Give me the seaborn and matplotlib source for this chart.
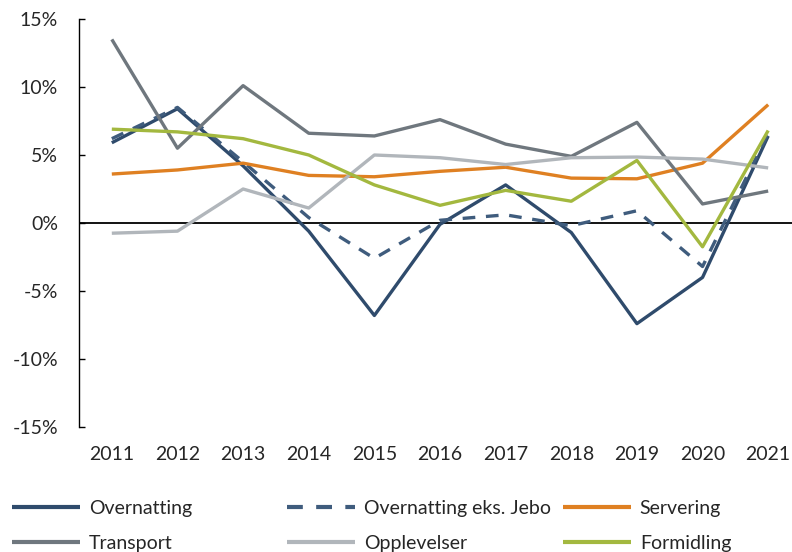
import numpy as np
import pandas as pd
import seaborn as sns
import matplotlib.pyplot as plt
from matplotlib.lines import Line2D
from matplotlib.ticker import FuncFormatter

# Annual change (%) per industry.
years = [2011, 2012, 2013, 2014, 2015, 2016, 2017, 2018, 2019, 2020, 2021]
overnatting = [5.9, 8.4, 4.2, -0.6, -6.8, -0.1, 2.8, -0.7, -7.4, -4.0, 6.4]
overnatting_eks_jebo = [6.2, 8.5, 4.5, 0.4, -2.6, 0.2, 0.6, -0.2, 0.9, -3.2, 6.6]
servering = [3.6, 3.9, 4.4, 3.5, 3.4, 3.8, 4.1, 3.3, 3.25, 4.4, 8.7]
transport = [13.5, 5.5, 10.1, 6.6, 6.4, 7.6, 5.8, 4.9, 7.4, 1.4, 2.35]
opplevelser = [-0.75, -0.6, 2.5, 1.1, 5.0, 4.8, 4.3, 4.8, 4.85, 4.7, 4.05]
formidling = [6.9, 6.7, 6.2, 5.0, 2.8, 1.3, 2.4, 1.6, 4.6, -1.75, 6.8]

series = {
    'Overnatting': overnatting,
    'Overnatting eks. Jebo': overnatting_eks_jebo,
    'Servering': servering,
    'Transport': transport,
    'Opplevelser': opplevelser,
    'Formidling': formidling,
}
names = list(series)
colors = {
    'Overnatting': '#2f4b6c',
    'Overnatting eks. Jebo': '#3f5c7d',
    'Servering': '#df8022',
    'Transport': '#6f777e',
    'Opplevelser': '#b1b6bb',
    'Formidling': '#a3b83f',
}
dashes = {n: '' for n in names}
dashes['Overnatting eks. Jebo'] = (3.8, 3.2)

df = pd.DataFrame([
    {'year': str(y), 'pos': i, 'serie': n, 'value': v}
    for n in names for i, (y, v) in enumerate(zip(years, series[n]))
])

sns.set_style('white')
plt.rcParams['font.family'] = ['Lato', 'DejaVu Sans']
plt.rcParams['font.size'] = 14

fig = plt.figure(figsize=(7.92, 5.52), dpi=100)
ax = fig.add_axes([79 / 792, 1 - 427 / 552, (801 - 79) / 792, (427 - 19) / 552])

lw = 2.4
sns.lineplot(data=df, x='pos', y='value', hue='serie', style='serie',
             hue_order=names, style_order=names, palette=colors, dashes=dashes,
             linewidth=lw, legend=False, ax=ax)
for line in ax.get_lines():
    line.set_solid_capstyle('butt')
    line.set_dash_capstyle('butt')

ax.axhline(0, color='black', lw=1.3, zorder=1)
ax.set_xlim(-0.5, len(years) - 0.5)
ax.set_ylim(-15, 15)
ax.set_yticks(np.arange(-15, 16, 5))
ax.yaxis.set_major_formatter(FuncFormatter(lambda v, p: f'{v:.0f}%'))
ax.set_xticks(range(len(years)))
ax.set_xticklabels([str(y) for y in years])
ax.set_xlabel('')
ax.set_ylabel('')
ax.tick_params(axis='x', length=0, pad=14, labelsize=14)
ax.tick_params(axis='y', direction='in', length=4.3, width=1, color='black',
               pad=15, labelsize=14, left=True)
sns.despine(ax=ax, top=True, right=True, bottom=True)
ax.spines['left'].set_color('black')
ax.spines['left'].set_linewidth(1)

# Legend in three columns, each placed where the reference puts it.
columns = [(12, ['Overnatting', 'Transport']),
           (287, ['Overnatting eks. Jebo', 'Opplevelser']),
           (563, ['Servering', 'Formidling'])]
for x0, labels in columns:
    handles = [Line2D([], [], color=colors[n], lw=3,
                      dashes=dashes[n] if dashes[n] else (None, None),
                      solid_capstyle='butt')
               for n in labels]
    fig.legend(handles, labels, loc='center left',
               bbox_to_anchor=(x0 / 792, 1 - 526 / 552),
               frameon=False, borderpad=0, borderaxespad=0,
               handlelength=3.5, handletextpad=0.45, labelspacing=0.95,
               fontsize=14)

fig.savefig('out.png', dpi=100)
